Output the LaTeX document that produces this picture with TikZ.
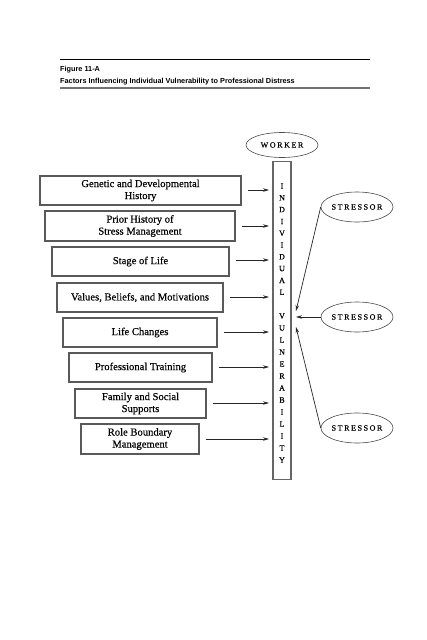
\documentclass[tikz,border=0pt]{standalone}
\usepackage{fontspec}
\setmainfont{Liberation Serif}[FakeBold=0.35]
\newfontfamily\capfont{Liberation Sans}
\newfontfamily\spacedfont[LetterSpace=20,FakeBold=0.3]{Liberation Serif}
\usetikzlibrary{arrows.meta,shapes.geometric}
\begin{document}
\begin{tikzpicture}[x=1pt,y=-1pt,
  factor/.style={draw=black!65,line width=1.1pt,inner sep=0pt,align=center,font=\fontsize{10.6}{12}\selectfont},
  oval/.style={draw=black!70,line width=0.6pt,ellipse,inner sep=0pt,minimum width=72pt,minimum height=30pt,font=\spacedfont\fontsize{8}{9}\selectfont},
  arr/.style={-{Stealth[length=6pt,width=3.5pt]},line width=0.7pt,black!85},
  letter/.style={font=\fontsize{8}{9}\selectfont,inner sep=0pt}]
\useasboundingbox (0,0) rectangle (427,640);
% caption
\draw[line width=0.8pt] (60,59) -- (370,59);
\draw[line width=1.4pt,black!55] (60,88) -- (370,88);
\node[anchor=base west,inner sep=0pt,font=\capfont\bfseries\fontsize{7.3}{8}\selectfont] (fig) at (60,71) {Figure 11-A};
\node[anchor=base west,inner sep=0pt,font=\capfont\bfseries\fontsize{7.3}{8}\selectfont] (title) at (60,83) {Factors Influencing Individual Vulnerability to Professional Distress};
% worker
\node[oval,minimum height=25pt] (worker) at (282,145) {WORKER};
% vertical box
\node[draw=black!60,line width=1.1pt,minimum width=18pt,minimum height=318pt,inner sep=0pt] (vbox) at (282,320.5) {};
\foreach \l [count=\i] in {I,N,D,I,V,I,D,U,A,L} {
  \node[letter] (a\i) at (282,186+11.8*\i-11.8) {\l};
}
\foreach \l [count=\i] in {V,U,L,N,E,R,A,B,I,L,I,T,Y} {
  \node[letter] (b\i) at (282,316+12*\i-12) {\l};
}
% factor boxes
\node[factor,minimum width=201pt,minimum height=29pt] (f1) at (140.5,190.5) {Genetic and Developmental\\History};
\node[factor,minimum width=190pt,minimum height=30pt] (f2) at (140,226) {Prior History of\\Stress Management};
\node[factor,minimum width=177pt,minimum height=29pt] (f3) at (140.5,261.5) {Stage of Life};
\node[factor,minimum width=166pt,minimum height=29pt] (f4) at (140,297.5) {Values, Beliefs, and Motivations};
\node[factor,minimum width=154pt,minimum height=29pt] (f5) at (140,332.5) {Life Changes};
\node[factor,minimum width=143pt,minimum height=29pt] (f6) at (140.5,367.5) {Professional Training};
\node[factor,minimum width=131pt,minimum height=29pt] (f7) at (140.5,403.5) {Family and Social\\Supports};
\node[factor,minimum width=118pt,minimum height=30pt] (f8) at (140,439) {Role Boundary\\Management};
\foreach \i/\y in {1/190,2/226,3/260,4/297,5/332,6/367,7/403,8/439} {
  \coordinate (t\i) at (269,\y);
  \draw[arr] (f\i.east |- t\i) ++(6,0) -- (t\i);
}
% stressors
\node[oval] (s1) at (357,207) {STRESSOR};
\node[oval] (s2) at (357,317) {STRESSOR};
\node[oval] (s3) at (357,428) {STRESSOR};
\coordinate (e1) at (296,311);
\coordinate (e2) at (296,317);
\coordinate (e3) at (296,327);
\draw[arr] (s1.west) -- (e1);
\draw[arr] (s2.west) -- (e2);
\draw[arr] (s3.west) -- (e3);
\end{tikzpicture}
\end{document}
